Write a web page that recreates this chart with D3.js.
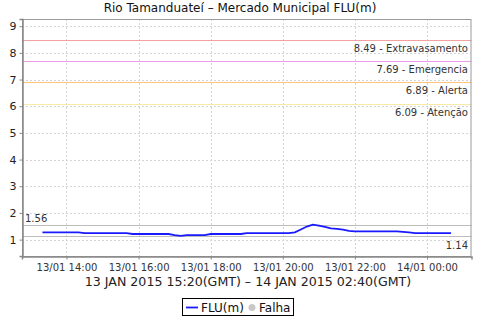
<!DOCTYPE html>
<meta charset="utf-8">
<script src="https://d3js.org/d3.v7.min.js"></script>
<style>
  body { margin: 0; background: #fff; }
  text { font-family: "DejaVu Sans", sans-serif; }
</style>
<div id="my_dataviz"></div>
<script>

// FLU(m) readings, every 10 minutes from 13/01 13:20 to 14/01 00:40 (local)
var startTime = "2015-01-13T13:20:00Z";
var stepMinutes = 10;
var levels = [
  1.27, 1.27, 1.27, 1.27, 1.27, 1.27, 1.27,             // 13:20 - 14:20
  1.24, 1.24, 1.24, 1.24, 1.24, 1.24, 1.24, 1.24,       // 14:30 - 15:40
  1.21, 1.21, 1.21, 1.21, 1.21, 1.21, 1.21,             // 15:50 - 16:50
  1.17, 1.14, 1.17, 1.17, 1.17, 1.17,                   // 17:00 - 17:50
  1.21, 1.21, 1.21, 1.21, 1.21, 1.21,                   // 18:00 - 18:50
  1.24, 1.24, 1.24, 1.24, 1.24, 1.24, 1.24, 1.24,       // 19:00 - 20:10
  1.27, 1.38, 1.49, 1.56, 1.52, 1.48, 1.42, 1.40, 1.37, 1.33, // 20:20 - 21:50
  1.31, 1.31, 1.31, 1.31, 1.31, 1.31, 1.31, 1.31,       // 22:00 - 23:10
  1.29, 1.27, 1.24,                                     // 23:20 - 23:40
  1.24, 1.24, 1.24, 1.24, 1.24, 1.24                    // 23:50 - 00:40
];

// alert thresholds
var thresholdValues = [8.49, 7.69, 6.89, 6.09];
var thresholdNames = ["Extravasamento", "Emergencia", "Alerta", "Atenção"];
var thresholdColors = ["#f2a0a0", "#eb9ceb", "#ffc47c", "#f6eaa6"];

var yTicks = [1, 2, 3, 4, 5, 6, 7, 8, 9];
var xDomain = ["2015-01-13T12:46:00Z", "2015-01-14T01:14:00Z"];
var yDomain = [0.385, 9.27];

var titleText = "Rio Tamanduateí – Mercado Municipal FLU(m)";
var axisLabel = "13 JAN 2015 15:20(GMT) – 14 JAN 2015 02:40(GMT)";

var data = levels.map(function(v, i) {
  return { t: new Date(Date.parse(startTime) + i * stepMinutes * 60000), v: v };
});
var maxV = d3.max(levels), minV = d3.min(levels);

var W = 480, H = 320;
var plot = { left: 22, right: 471.5, top: 19, bottom: 256 };

var svg = d3.select("#my_dataviz").append("svg")
  .attr("width", W).attr("height", H);

var x = d3.scaleUtc()
  .domain(xDomain.map(function(s) { return new Date(s); }))
  .range([plot.left, plot.right]);
var y = d3.scaleLinear().domain(yDomain).range([plot.bottom, plot.top]);

var xTicks = x.ticks(d3.utcHour.every(2));

// title
svg.append("text")
  .attr("x", 240).attr("y", 12)
  .attr("text-anchor", "middle")
  .style("font-size", "12px").style("fill", "#111")
  .text(titleText);

// grid
var grid = svg.append("g")
  .attr("stroke", "#d4d4d4").attr("stroke-dasharray", "2,2")
  .attr("shape-rendering", "crispEdges");
grid.selectAll(".gx").data(xTicks).enter().append("line")
  .attr("x1", function(d) { return Math.round(x(d)) + 0.5; })
  .attr("x2", function(d) { return Math.round(x(d)) + 0.5; })
  .attr("y1", plot.top).attr("y2", plot.bottom);
grid.selectAll(".gy").data(yTicks).enter().append("line")
  .attr("x1", plot.left).attr("x2", plot.right)
  .attr("y1", function(d) { return Math.round(y(d)) + 0.5; })
  .attr("y2", function(d) { return Math.round(y(d)) + 0.5; });

// threshold lines and labels
thresholdValues.forEach(function(v, i) {
  var yy = Math.round(y(v)) + 0.5;
  svg.append("line")
    .attr("x1", plot.left).attr("x2", plot.right)
    .attr("y1", yy).attr("y2", yy)
    .attr("stroke", thresholdColors[i]).attr("stroke-width", 1.2);
  svg.append("text")
    .attr("x", 468).attr("y", yy + 11)
    .attr("text-anchor", "end")
    .style("font-size", "10px").style("fill", "#333")
    .text(v.toFixed(2) + " - " + thresholdNames[i]);
});

// max / min lines
[maxV, minV].forEach(function(v) {
  var yy = Math.round(y(v)) + 0.5;
  svg.append("line")
    .attr("x1", plot.left).attr("x2", plot.right)
    .attr("y1", yy).attr("y2", yy)
    .attr("stroke", "#bdbdbd");
});
svg.append("text")
  .attr("x", 25).attr("y", Math.round(y(maxV)) - 3)
  .style("font-size", "10px").style("fill", "#333")
  .text(maxV.toFixed(2));
svg.append("text")
  .attr("x", 468).attr("y", Math.round(y(minV)) + 13)
  .attr("text-anchor", "end")
  .style("font-size", "10px").style("fill", "#333")
  .text(minV.toFixed(2));

// series
svg.append("path")
  .datum(data)
  .attr("fill", "none")
  .attr("stroke", "#1a1aff")
  .attr("stroke-width", 1.8)
  .attr("d", d3.line()
    .x(function(d) { return x(d.t); })
    .y(function(d) { return y(d.v); }));

// plot outline
svg.append("rect")
  .attr("x", plot.left + 0.5).attr("y", plot.top + 0.5)
  .attr("width", plot.right - plot.left - 1).attr("height", plot.bottom - plot.top)
  .attr("fill", "none").attr("stroke", "#9a9a9a");

// axes
var yAxis = svg.append("g")
  .attr("transform", "translate(" + (plot.left + 0.5) + ",0)")
  .call(d3.axisLeft(y).tickValues(yTicks).tickSize(3).tickPadding(3).tickFormat(d3.format("d")));
yAxis.select(".domain").attr("stroke", "#888").attr("stroke-width", 1.5);
yAxis.selectAll(".tick line").attr("stroke", "#888");
yAxis.selectAll("text").style("font-size", "11px").style("fill", "#222")
  .style("font-family", "DejaVu Sans, sans-serif");

var xAxis = svg.append("g")
  .attr("transform", "translate(0," + (plot.bottom + 0.5) + ")")
  .call(d3.axisBottom(x).tickValues(xTicks).tickSize(3).tickPadding(4)
    .tickFormat(d3.utcFormat("%d/%m %H:%M")));
xAxis.select(".domain").attr("stroke", "#888").attr("stroke-width", 1.5);
xAxis.selectAll(".tick line").attr("stroke", "#888");
xAxis.selectAll("text").style("font-size", "10px").style("fill", "#333")
  .style("font-family", "DejaVu Sans, sans-serif");

// axis label
svg.append("text")
  .attr("x", 248).attr("y", 286)
  .attr("text-anchor", "middle")
  .style("font-size", "12.6px").style("fill", "#222")
  .text(axisLabel);

// legend
var legend = svg.append("g");
legend.append("rect")
  .attr("x", 182.5).attr("y", 298.5).attr("width", 111).attr("height", 17)
  .attr("fill", "#fff").attr("stroke", "#000");
legend.append("line")
  .attr("x1", 186).attr("x2", 198).attr("y1", 307.5).attr("y2", 307.5)
  .attr("stroke", "#1a1aff").attr("stroke-width", 1.8);
legend.append("text")
  .attr("x", 201).attr("y", 311.5)
  .style("font-size", "12px").style("fill", "#111")
  .text("FLU(m)");
legend.append("circle")
  .attr("cx", 252).attr("cy", 307.5).attr("r", 3.5)
  .attr("fill", "#c8c8c8");
legend.append("text")
  .attr("x", 259).attr("y", 311.5)
  .style("font-size", "12px").style("fill", "#111")
  .text("Falha");

</script>
